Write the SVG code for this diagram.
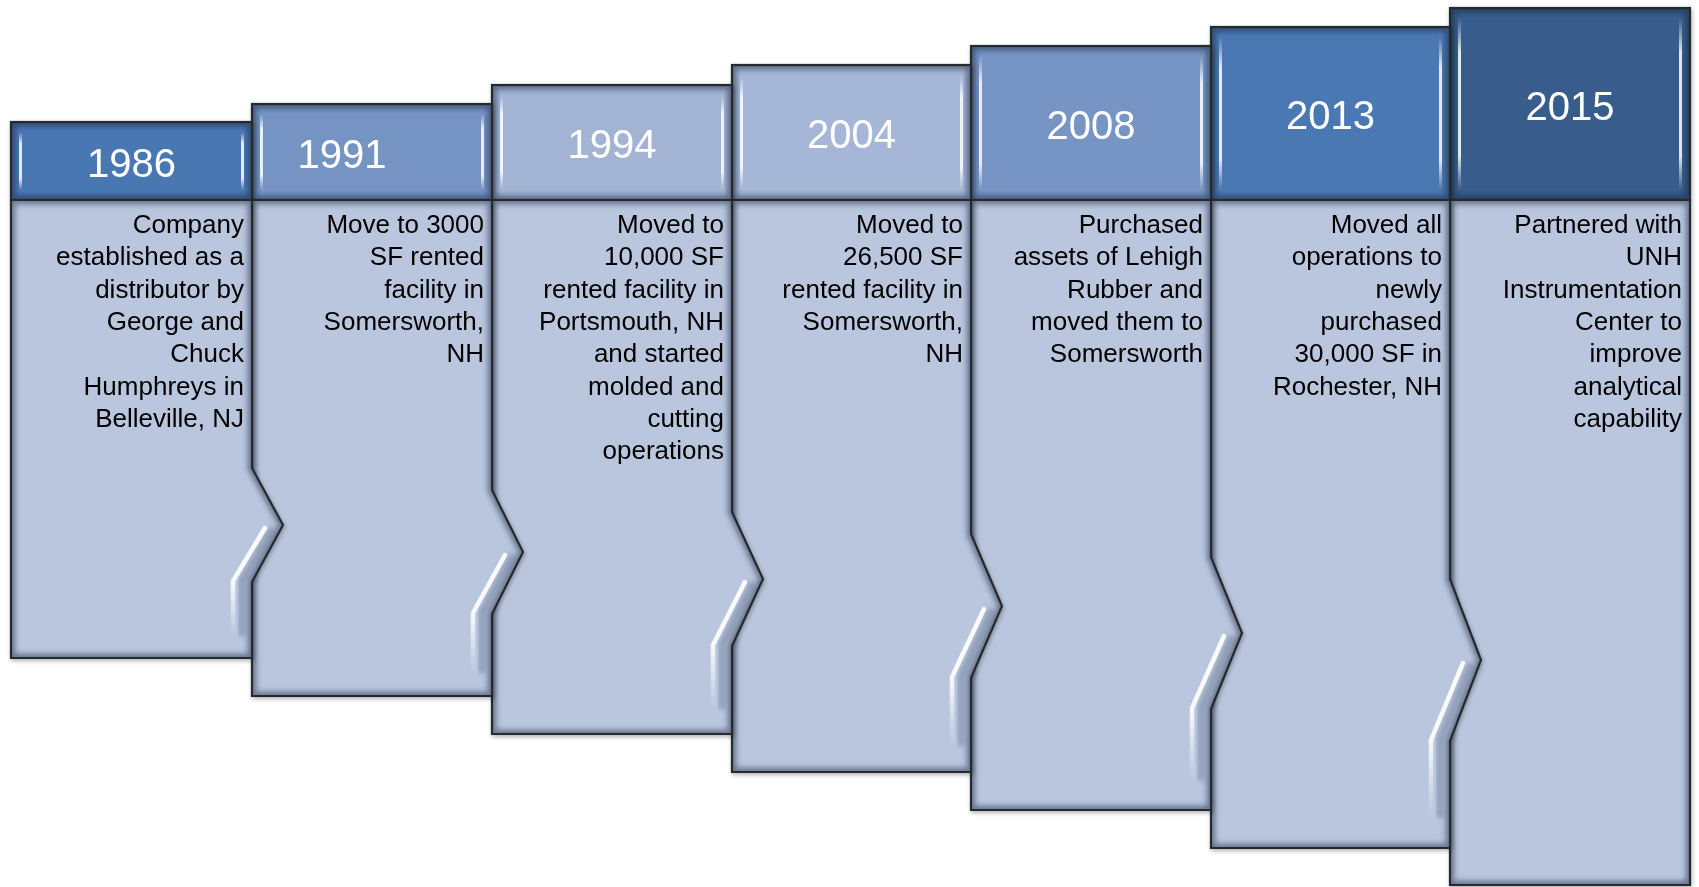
<svg xmlns="http://www.w3.org/2000/svg" xmlns:xlink="http://www.w3.org/1999/xlink" width="1699" height="887" viewBox="0 0 1699 887">
<style>
.bfill{fill:#b9c6de;stroke:none}
.ol{fill:none;stroke:#25292f;stroke-width:2.2;stroke-linejoin:miter}
.glow{fill:none;stroke:#2f3b55;stroke-opacity:.55;stroke-width:9;filter:url(#soft)}
.hglow{fill:none;stroke:#14223a;stroke-opacity:.5;stroke-width:9;filter:url(#soft)}
.hl{fill:url(#hlg)}
.nh{fill:none;stroke:url(#nhg);stroke-width:4.5;stroke-linejoin:round;stroke-linecap:round}
.ns{fill:none;stroke:#5d6a84;stroke-opacity:.45;stroke-width:7;filter:url(#soft)}
.yr{font-family:"Liberation Sans",Arial,sans-serif;font-size:40px;fill:#ffffff;text-anchor:middle}
.txt{font-family:"Liberation Sans",Arial,sans-serif;font-size:26px;fill:#000000;text-anchor:end}
</style>
<defs>
<filter id="ds" x="-10%" y="-10%" width="120%" height="120%"><feDropShadow dx="1" dy="2" stdDeviation="2" flood-color="#000" flood-opacity=".3"/></filter>
<filter id="soft" x="-10%" y="-10%" width="120%" height="120%"><feGaussianBlur stdDeviation="2.5"/></filter>
<linearGradient id="hlg" x1="0" y1="0" x2="0" y2="1">
<stop offset="0" stop-color="#fff" stop-opacity="0"/>
<stop offset=".2" stop-color="#fff" stop-opacity=".85"/>
<stop offset=".8" stop-color="#fff" stop-opacity=".85"/>
<stop offset="1" stop-color="#fff" stop-opacity="0"/>
</linearGradient>
<linearGradient id="nhg" x1="0" y1="0" x2="0" y2="1">
<stop offset="0" stop-color="#fff" stop-opacity=".95"/>
<stop offset=".5" stop-color="#fff" stop-opacity=".9"/>
<stop offset="1" stop-color="#fff" stop-opacity="0"/>
</linearGradient>
<path id="b0" d="M11 200H252V468L283 525L252 582V658H11Z"/>
<path id="b1" d="M252 200H492V490L523 552L492 614V696H252Z"/>
<path id="b2" d="M492 200H732V512L763 579L732 646V734H492Z"/>
<path id="b3" d="M732 200H971V534L1002 606L971 678V772H732Z"/>
<path id="b4" d="M971 200H1211V557L1242 633L1211 709V810H971Z"/>
<path id="b5" d="M1211 200H1450V579L1481 660L1450 741V848H1211Z"/>
<path id="b6" d="M1450 200H1690V885H1450Z"/>
<rect id="h0" x="11" y="122" width="241" height="78"/>
<rect id="h1" x="252" y="104" width="240" height="96"/>
<rect id="h2" x="492" y="85" width="240" height="115"/>
<rect id="h3" x="732" y="65" width="239" height="135"/>
<rect id="h4" x="971" y="46" width="240" height="154"/>
<rect id="h5" x="1211" y="27" width="239" height="173"/>
<rect id="h6" x="1450" y="8" width="240" height="192"/>
<clipPath id="cb0"><use xlink:href="#b0"/></clipPath>
<clipPath id="cb1"><use xlink:href="#b1"/></clipPath>
<clipPath id="cb2"><use xlink:href="#b2"/></clipPath>
<clipPath id="cb3"><use xlink:href="#b3"/></clipPath>
<clipPath id="cb4"><use xlink:href="#b4"/></clipPath>
<clipPath id="cb5"><use xlink:href="#b5"/></clipPath>
<clipPath id="cb6"><use xlink:href="#b6"/></clipPath>
<clipPath id="ch0"><use xlink:href="#h0"/></clipPath>
<clipPath id="ch1"><use xlink:href="#h1"/></clipPath>
<clipPath id="ch2"><use xlink:href="#h2"/></clipPath>
<clipPath id="ch3"><use xlink:href="#h3"/></clipPath>
<clipPath id="ch4"><use xlink:href="#h4"/></clipPath>
<clipPath id="ch5"><use xlink:href="#h5"/></clipPath>
<clipPath id="ch6"><use xlink:href="#h6"/></clipPath>
</defs>
<rect x="0" y="0" width="1699" height="887" fill="#ffffff"/>
<g id="connectors"></g>

<g id="n2015" filter="url(#ds)">
<use xlink:href="#h6" fill="#375d8c"/>
<g clip-path="url(#ch6)"><use xlink:href="#h6" class="hglow"/></g>
<rect class="hl" x="1458" y="18" width="3" height="172"/>
<rect class="hl" x="1679" y="18" width="3" height="172"/>
<use xlink:href="#h6" class="ol"/>
<use xlink:href="#b6" class="bfill"/>
<g clip-path="url(#cb6)"><use xlink:href="#b6" class="glow"/></g>
<use xlink:href="#b6" class="ol"/>
<text class="yr" x="1570" y="119.5">2015</text>
<text class="txt" y="233"><tspan x="1682">Partnered with</tspan><tspan x="1682" dy="32.3">UNH</tspan><tspan x="1682" dy="32.3">Instrumentation</tspan><tspan x="1682" dy="32.3">Center to</tspan><tspan x="1682" dy="32.3">improve</tspan><tspan x="1682" dy="32.3">analytical</tspan><tspan x="1682" dy="32.3">capability</tspan></text>
</g>

<g id="n2013" filter="url(#ds)">
<use xlink:href="#h5" fill="#4a78b2"/>
<g clip-path="url(#ch5)"><use xlink:href="#h5" class="hglow"/></g>
<rect class="hl" x="1219" y="37" width="3" height="153"/>
<rect class="hl" x="1439" y="37" width="3" height="153"/>
<use xlink:href="#h5" class="ol"/>
<use xlink:href="#b5" class="bfill"/>
<g clip-path="url(#cb5)"><use xlink:href="#b5" class="glow"/><polyline class="ns" points="1471,663 1440,740 1440,818"/></g>
<polyline class="nh" points="1463,663 1431,740 1431,818"/>
<use xlink:href="#b5" class="ol"/>
<text class="yr" x="1330.5" y="129">2013</text>
<text class="txt" y="233"><tspan x="1442">Moved all</tspan><tspan x="1442" dy="32.3">operations to</tspan><tspan x="1442" dy="32.3">newly</tspan><tspan x="1442" dy="32.3">purchased</tspan><tspan x="1442" dy="32.3">30,000 SF in</tspan><tspan x="1442" dy="32.3">Rochester, NH</tspan></text>
</g>

<g id="n2008" filter="url(#ds)">
<use xlink:href="#h4" fill="#7795c4"/>
<g clip-path="url(#ch4)"><use xlink:href="#h4" class="hglow"/></g>
<rect class="hl" x="979" y="56" width="3" height="134"/>
<rect class="hl" x="1200" y="56" width="3" height="134"/>
<use xlink:href="#h4" class="ol"/>
<use xlink:href="#b4" class="bfill"/>
<g clip-path="url(#cb4)"><use xlink:href="#b4" class="glow"/><polyline class="ns" points="1232,636 1201,708 1201,781"/></g>
<polyline class="nh" points="1224,636 1192,708 1192,781"/>
<use xlink:href="#b4" class="ol"/>
<text class="yr" x="1091" y="138.5">2008</text>
<text class="txt" y="233"><tspan x="1203">Purchased</tspan><tspan x="1203" dy="32.3">assets of Lehigh</tspan><tspan x="1203" dy="32.3">Rubber and</tspan><tspan x="1203" dy="32.3">moved them to</tspan><tspan x="1203" dy="32.3">Somersworth</tspan></text>
</g>

<g id="n2004" filter="url(#ds)">
<use xlink:href="#h3" fill="#a5b6d6"/>
<g clip-path="url(#ch3)"><use xlink:href="#h3" class="hglow"/></g>
<rect class="hl" x="740" y="75" width="3" height="115"/>
<rect class="hl" x="960" y="75" width="3" height="115"/>
<use xlink:href="#h3" class="ol"/>
<use xlink:href="#b3" class="bfill"/>
<g clip-path="url(#cb3)"><use xlink:href="#b3" class="glow"/><polyline class="ns" points="992,609 961,677 961,746"/></g>
<polyline class="nh" points="984,609 952,677 952,746"/>
<use xlink:href="#b3" class="ol"/>
<text class="yr" x="851.5" y="148">2004</text>
<text class="txt" y="233"><tspan x="963">Moved to</tspan><tspan x="963" dy="32.3">26,500 SF</tspan><tspan x="963" dy="32.3">rented facility in</tspan><tspan x="963" dy="32.3">Somersworth,</tspan><tspan x="963" dy="32.3">NH</tspan></text>
</g>

<g id="n1994" filter="url(#ds)">
<use xlink:href="#h2" fill="#a2b3d4"/>
<g clip-path="url(#ch2)"><use xlink:href="#h2" class="hglow"/></g>
<rect class="hl" x="500" y="95" width="3" height="95"/>
<rect class="hl" x="721" y="95" width="3" height="95"/>
<use xlink:href="#h2" class="ol"/>
<use xlink:href="#b2" class="bfill"/>
<g clip-path="url(#cb2)"><use xlink:href="#b2" class="glow"/><polyline class="ns" points="753,582 722,645 722,709"/></g>
<polyline class="nh" points="745,582 713,645 713,709"/>
<use xlink:href="#b2" class="ol"/>
<text class="yr" x="612" y="158">1994</text>
<text class="txt" y="233"><tspan x="724">Moved to</tspan><tspan x="724" dy="32.3">10,000 SF</tspan><tspan x="724" dy="32.3">rented facility in</tspan><tspan x="724" dy="32.3">Portsmouth, NH</tspan><tspan x="724" dy="32.3">and started</tspan><tspan x="724" dy="32.3">molded and</tspan><tspan x="724" dy="32.3">cutting</tspan><tspan x="724" dy="32.3">operations</tspan></text>
</g>

<g id="n1991" filter="url(#ds)">
<use xlink:href="#h1" fill="#7694c3"/>
<g clip-path="url(#ch1)"><use xlink:href="#h1" class="hglow"/></g>
<rect class="hl" x="260" y="114" width="3" height="76"/>
<rect class="hl" x="481" y="114" width="3" height="76"/>
<use xlink:href="#h1" class="ol"/>
<use xlink:href="#b1" class="bfill"/>
<g clip-path="url(#cb1)"><use xlink:href="#b1" class="glow"/><polyline class="ns" points="513,555 482,613 482,673"/></g>
<polyline class="nh" points="505,555 473,613 473,673"/>
<use xlink:href="#b1" class="ol"/>
<text class="yr" x="342" y="167.5">1991</text>
<text class="txt" y="233"><tspan x="484">Move to 3000</tspan><tspan x="484" dy="32.3">SF rented</tspan><tspan x="484" dy="32.3">facility in</tspan><tspan x="484" dy="32.3">Somersworth,</tspan><tspan x="484" dy="32.3">NH</tspan></text>
</g>

<g id="n1986" filter="url(#ds)">
<use xlink:href="#h0" fill="#4a77b2"/>
<g clip-path="url(#ch0)"><use xlink:href="#h0" class="hglow"/></g>
<rect class="hl" x="19" y="132" width="3" height="58"/>
<rect class="hl" x="241" y="132" width="3" height="58"/>
<use xlink:href="#h0" class="ol"/>
<use xlink:href="#b0" class="bfill"/>
<g clip-path="url(#cb0)"><use xlink:href="#b0" class="glow"/><polyline class="ns" points="273,528 242,581 242,636"/></g>
<polyline class="nh" points="265,528 233,581 233,636"/>
<use xlink:href="#b0" class="ol"/>
<text class="yr" x="131.5" y="176.5">1986</text>
<text class="txt" y="233"><tspan x="244">Company</tspan><tspan x="244" dy="32.3">established as a</tspan><tspan x="244" dy="32.3">distributor by</tspan><tspan x="244" dy="32.3">George and</tspan><tspan x="244" dy="32.3">Chuck</tspan><tspan x="244" dy="32.3">Humphreys in</tspan><tspan x="244" dy="32.3">Belleville, NJ</tspan></text>
</g>
</svg>
